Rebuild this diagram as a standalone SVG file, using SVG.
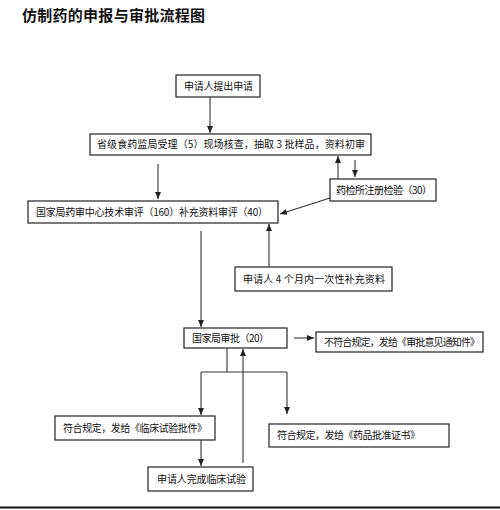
<svg xmlns="http://www.w3.org/2000/svg" width="500" height="510" viewBox="0 0 500 510">
<defs>
<style>
.box{fill:#fff;stroke:#222;stroke-width:1.2}
.t{font-family:"Noto Sans CJK SC","Noto Sans",sans-serif;font-size:10px;fill:#111}
.title{font-family:"Noto Sans CJK SC","Noto Sans",sans-serif;font-size:15px;font-weight:bold;fill:#111}
.ln{fill:none;stroke:#333;stroke-width:1.1}
</style>
<marker id="ah" markerWidth="8" markerHeight="8" refX="7" refY="4" orient="auto" markerUnits="userSpaceOnUse">
<path d="M0,1 L7,4 L0,7 Z" fill="#222"/>
</marker>
</defs>
<rect width="500" height="510" fill="#fff"/>
<text class="title" x="22" y="21" textLength="183">仿制药的申报与审批流程图</text>

<g id="n1"><rect class="box" x="176" y="75" width="84" height="22"/><text class="t" x="184" y="90" textLength="69">申请人提出申请</text></g>
<g id="n2"><rect class="box" x="90" y="134" width="281" height="21"/><text class="t" x="97" y="148" textLength="268">省级食药监局受理（5）现场核查，抽取 3 批样品，资料初审</text></g>
<g id="n3"><rect class="box" x="28" y="201" width="250" height="22"/><text class="t" x="36" y="216" textLength="232">国家局药审中心技术审评（160）补充资料审评（40）</text></g>
<g id="n4"><rect class="box" x="330" y="179" width="106" height="22"/><text class="t" x="336" y="194" textLength="96">药检所注册检验（30）</text></g>
<g id="n5"><rect class="box" x="235" y="267" width="157" height="24"/><text class="t" x="243" y="283" textLength="142">申请人 4 个月内一次性补充资料</text></g>
<g id="n6"><rect class="box" x="184" y="328" width="103" height="20"/><text class="t" x="192" y="342" textLength="77">国家局审批（20）</text></g>
<g id="n7"><rect class="box" x="316" y="332" width="167" height="20"/><text class="t" x="324" y="346" textLength="156">不符合规定，发给《审批意见通知件》</text></g>
<g id="n8"><rect class="box" x="55" y="416" width="160" height="24"/><text class="t" x="63" y="432" textLength="144">符合规定，发给《临床试验批件》</text></g>
<g id="n9"><rect class="box" x="269" y="424" width="180" height="23"/><text class="t" x="277" y="439" textLength="143">符合规定，发给《药品批准证书》</text></g>
<g id="n10"><rect class="box" x="148" y="467" width="105" height="24"/><text class="t" x="157" y="483" textLength="89">申请人完成临床试验</text></g>

<g id="connectors">
<line class="ln" x1="210" y1="97" x2="210" y2="133" marker-end="url(#ah)"/>
<line class="ln" x1="158" y1="164" x2="158" y2="199" marker-end="url(#ah)"/>
<line class="ln" x1="338" y1="179" x2="338" y2="156" marker-end="url(#ah)"/>
<line class="ln" x1="355" y1="160" x2="355" y2="177" marker-end="url(#ah)"/>
<line class="ln" x1="330" y1="198" x2="280" y2="214" marker-end="url(#ah)"/>
<line class="ln" x1="269" y1="267" x2="269" y2="224" marker-end="url(#ah)"/>
<line class="ln" x1="201" y1="231" x2="201" y2="327" marker-end="url(#ah)"/>
<line class="ln" x1="294" y1="338" x2="314" y2="338" marker-end="url(#ah)"/>
<polyline class="ln" points="227,348 227,372"/>
<polyline class="ln" points="201,372 287,372"/>
<line class="ln" x1="201" y1="372" x2="201" y2="415" marker-end="url(#ah)"/>
<line class="ln" x1="287" y1="372" x2="287" y2="414" marker-end="url(#ah)"/>
<line class="ln" x1="201" y1="440" x2="201" y2="466" marker-end="url(#ah)"/>
<line class="ln" x1="243" y1="463" x2="243" y2="349" marker-end="url(#ah)"/>
</g>
<line x1="0" y1="507.5" x2="500" y2="507.5" stroke="#111" stroke-width="2"/>
</svg>
